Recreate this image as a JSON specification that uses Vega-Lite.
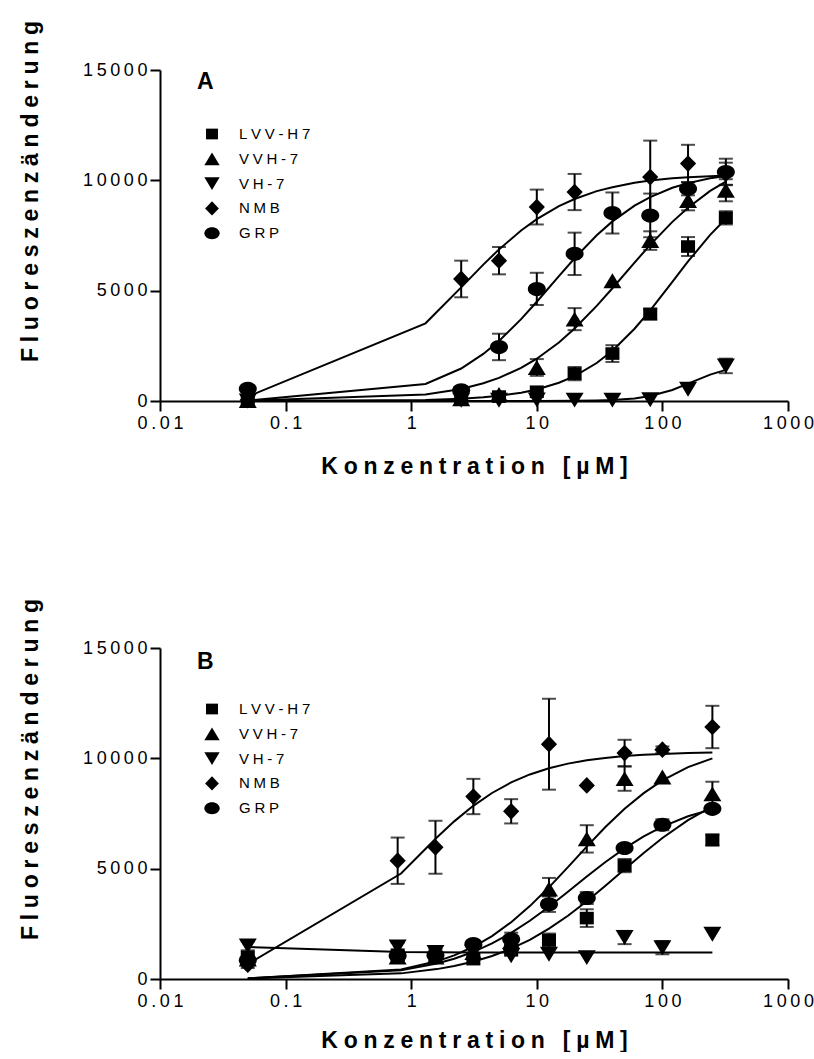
{
  "$schema": "https://vega.github.io/schema/vega-lite/v6.json",
  "padding": {"left": 19, "top": 20, "right": 5, "bottom": 0},
  "spacing": 120,
  "config": {
    "view": {"stroke": null},
    "font": "Liberation Sans",
    "axis": {
      "grid": false,
      "domainColor": "black", "domainWidth": 2,
      "tickColor": "black", "tickWidth": 2, "tickSize": 10,
      "labelColor": "black", "labelFont": "Liberation Sans", "labelFontSize": 18, "labelPadding": 3,
      "labelFlush": false, "labelOverlap": false,
      "titleColor": "black", "titleFont": "Liberation Sans", "titleFontSize": 23, "titleFontWeight": "bold"
    },
    "legend": {
      "orient": "none", "legendX": 44, "legendY": 56, "padding": 0,
      "labelColor": "black", "labelFont": "Liberation Sans", "labelFontSize": 15,
      "labelOffset": 19, "rowPadding": 8.8, "symbolSize": 235,
      "symbolFillColor": "black", "symbolStrokeColor": "black", "symbolStrokeWidth": 0
    },
    "text": {"font": "Liberation Sans", "fontSize": 23, "fontWeight": "bold", "color": "black", "align": "left", "baseline": "alphabetic"}
  },
  "datasets": {
    "points": [
      {"p": "A", "c": "LVV-H7", "x": 0.05, "y": 30, "e": 0},
      {"p": "A", "c": "LVV-H7", "x": 2.5, "y": 150, "e": 0},
      {"p": "A", "c": "LVV-H7", "x": 5, "y": 200, "e": 0},
      {"p": "A", "c": "LVV-H7", "x": 10, "y": 420, "e": 0},
      {"p": "A", "c": "LVV-H7", "x": 20, "y": 1240, "e": 300},
      {"p": "A", "c": "LVV-H7", "x": 40, "y": 2150, "e": 380},
      {"p": "A", "c": "LVV-H7", "x": 80, "y": 3940, "e": 250},
      {"p": "A", "c": "LVV-H7", "x": 160, "y": 7000, "e": 430},
      {"p": "A", "c": "LVV-H7", "x": 320, "y": 8300, "e": 300},
      {"p": "A", "c": "VVH-7", "x": 0.05, "y": 20, "e": 0},
      {"p": "A", "c": "VVH-7", "x": 2.5, "y": 100, "e": 0},
      {"p": "A", "c": "VVH-7", "x": 5, "y": 300, "e": 0},
      {"p": "A", "c": "VVH-7", "x": 10, "y": 1520, "e": 380},
      {"p": "A", "c": "VVH-7", "x": 20, "y": 3710, "e": 500},
      {"p": "A", "c": "VVH-7", "x": 40, "y": 5450, "e": 0},
      {"p": "A", "c": "VVH-7", "x": 80, "y": 7270, "e": 420},
      {"p": "A", "c": "VVH-7", "x": 160, "y": 9090, "e": 450},
      {"p": "A", "c": "VVH-7", "x": 320, "y": 9550, "e": 500},
      {"p": "A", "c": "VH-7", "x": 0.05, "y": 0, "e": 0},
      {"p": "A", "c": "VH-7", "x": 2.5, "y": 30, "e": 0},
      {"p": "A", "c": "VH-7", "x": 5, "y": 30, "e": 0},
      {"p": "A", "c": "VH-7", "x": 10, "y": 50, "e": 0},
      {"p": "A", "c": "VH-7", "x": 20, "y": 40, "e": 0},
      {"p": "A", "c": "VH-7", "x": 40, "y": 40, "e": 0},
      {"p": "A", "c": "VH-7", "x": 80, "y": 60, "e": 0},
      {"p": "A", "c": "VH-7", "x": 160, "y": 530, "e": 0},
      {"p": "A", "c": "VH-7", "x": 320, "y": 1590, "e": 330},
      {"p": "A", "c": "NMB", "x": 0.05, "y": 50, "e": 0},
      {"p": "A", "c": "NMB", "x": 2.5, "y": 5530, "e": 830},
      {"p": "A", "c": "NMB", "x": 5, "y": 6360, "e": 620},
      {"p": "A", "c": "NMB", "x": 10, "y": 8790, "e": 790},
      {"p": "A", "c": "NMB", "x": 20, "y": 9470, "e": 820},
      {"p": "A", "c": "NMB", "x": 80, "y": 10150, "e": 1650},
      {"p": "A", "c": "NMB", "x": 160, "y": 10760, "e": 850},
      {"p": "A", "c": "NMB", "x": 320, "y": 10300, "e": 500},
      {"p": "A", "c": "GRP", "x": 0.05, "y": 550, "e": 0},
      {"p": "A", "c": "GRP", "x": 2.5, "y": 485, "e": 0},
      {"p": "A", "c": "GRP", "x": 5, "y": 2450, "e": 600},
      {"p": "A", "c": "GRP", "x": 10, "y": 5080, "e": 730},
      {"p": "A", "c": "GRP", "x": 20, "y": 6670, "e": 960},
      {"p": "A", "c": "GRP", "x": 40, "y": 8520, "e": 930},
      {"p": "A", "c": "GRP", "x": 80, "y": 8410, "e": 990},
      {"p": "A", "c": "GRP", "x": 160, "y": 9620, "e": 300},
      {"p": "A", "c": "GRP", "x": 320, "y": 10380, "e": 600},
      {"p": "B", "c": "LVV-H7", "x": 0.05, "y": 1000, "e": 0},
      {"p": "B", "c": "LVV-H7", "x": 0.78, "y": 1100, "e": 0},
      {"p": "B", "c": "LVV-H7", "x": 1.56, "y": 1000, "e": 0},
      {"p": "B", "c": "LVV-H7", "x": 3.125, "y": 900, "e": 0},
      {"p": "B", "c": "LVV-H7", "x": 6.25, "y": 1300, "e": 0},
      {"p": "B", "c": "LVV-H7", "x": 12.5, "y": 1760, "e": 300},
      {"p": "B", "c": "LVV-H7", "x": 25, "y": 2760, "e": 400},
      {"p": "B", "c": "LVV-H7", "x": 50, "y": 5140, "e": 300},
      {"p": "B", "c": "LVV-H7", "x": 250, "y": 6300, "e": 250},
      {"p": "B", "c": "VVH-7", "x": 0.05, "y": 900, "e": 0},
      {"p": "B", "c": "VVH-7", "x": 0.78, "y": 1000, "e": 0},
      {"p": "B", "c": "VVH-7", "x": 1.56, "y": 1000, "e": 0},
      {"p": "B", "c": "VVH-7", "x": 3.125, "y": 1200, "e": 0},
      {"p": "B", "c": "VVH-7", "x": 6.25, "y": 1700, "e": 0},
      {"p": "B", "c": "VVH-7", "x": 12.5, "y": 4080, "e": 500},
      {"p": "B", "c": "VVH-7", "x": 25, "y": 6350, "e": 620},
      {"p": "B", "c": "VVH-7", "x": 50, "y": 9080, "e": 550},
      {"p": "B", "c": "VVH-7", "x": 100, "y": 9150, "e": 0},
      {"p": "B", "c": "VVH-7", "x": 250, "y": 8390, "e": 550},
      {"p": "B", "c": "VH-7", "x": 0.05, "y": 1500, "e": 200},
      {"p": "B", "c": "VH-7", "x": 0.78, "y": 1450, "e": 200},
      {"p": "B", "c": "VH-7", "x": 1.56, "y": 1200, "e": 150},
      {"p": "B", "c": "VH-7", "x": 3.125, "y": 1200, "e": 0},
      {"p": "B", "c": "VH-7", "x": 6.25, "y": 1050, "e": 0},
      {"p": "B", "c": "VH-7", "x": 12.5, "y": 1120, "e": 0},
      {"p": "B", "c": "VH-7", "x": 25, "y": 970, "e": 0},
      {"p": "B", "c": "VH-7", "x": 50, "y": 1880, "e": 300},
      {"p": "B", "c": "VH-7", "x": 100, "y": 1420, "e": 300},
      {"p": "B", "c": "VH-7", "x": 250, "y": 2030, "e": 0},
      {"p": "B", "c": "NMB", "x": 0.05, "y": 650, "e": 150},
      {"p": "B", "c": "NMB", "x": 0.78, "y": 5360, "e": 1050},
      {"p": "B", "c": "NMB", "x": 1.56, "y": 5970, "e": 1200},
      {"p": "B", "c": "NMB", "x": 3.125, "y": 8270, "e": 800},
      {"p": "B", "c": "NMB", "x": 6.25, "y": 7600, "e": 550},
      {"p": "B", "c": "NMB", "x": 12.5, "y": 10640, "e": 2060},
      {"p": "B", "c": "NMB", "x": 25, "y": 8770, "e": 0},
      {"p": "B", "c": "NMB", "x": 50, "y": 10240, "e": 600},
      {"p": "B", "c": "NMB", "x": 100, "y": 10390, "e": 150},
      {"p": "B", "c": "NMB", "x": 250, "y": 11420, "e": 960},
      {"p": "B", "c": "GRP", "x": 0.05, "y": 850, "e": 200},
      {"p": "B", "c": "GRP", "x": 0.78, "y": 1050, "e": 200},
      {"p": "B", "c": "GRP", "x": 1.56, "y": 1080, "e": 0},
      {"p": "B", "c": "GRP", "x": 3.125, "y": 1580, "e": 0},
      {"p": "B", "c": "GRP", "x": 6.25, "y": 1800, "e": 300},
      {"p": "B", "c": "GRP", "x": 12.5, "y": 3390, "e": 350},
      {"p": "B", "c": "GRP", "x": 25, "y": 3670, "e": 270},
      {"p": "B", "c": "GRP", "x": 50, "y": 5940, "e": 0},
      {"p": "B", "c": "GRP", "x": 100, "y": 6990, "e": 250},
      {"p": "B", "c": "GRP", "x": 250, "y": 7710, "e": 0}
    ],
    "curves": [
      {"p": "A", "c": "NMB", "x": 0.05, "y": 200}, {"p": "A", "c": "NMB", "x": 1.3, "y": 3520}, {"p": "A", "c": "NMB", "x": 2.5, "y": 5150}, {"p": "A", "c": "NMB", "x": 3.75, "y": 6180}, {"p": "A", "c": "NMB", "x": 5, "y": 6870}, {"p": "A", "c": "NMB", "x": 7.5, "y": 7725}, {"p": "A", "c": "NMB", "x": 10, "y": 8240}, {"p": "A", "c": "NMB", "x": 15, "y": 8830}, {"p": "A", "c": "NMB", "x": 20, "y": 9155}, {"p": "A", "c": "NMB", "x": 30, "y": 9510}, {"p": "A", "c": "NMB", "x": 40, "y": 9690}, {"p": "A", "c": "NMB", "x": 60, "y": 9890}, {"p": "A", "c": "NMB", "x": 80, "y": 9990}, {"p": "A", "c": "NMB", "x": 120, "y": 10090}, {"p": "A", "c": "NMB", "x": 160, "y": 10140}, {"p": "A", "c": "NMB", "x": 240, "y": 10190}, {"p": "A", "c": "NMB", "x": 320, "y": 10220},
      {"p": "A", "c": "GRP", "x": 0.05, "y": 23}, {"p": "A", "c": "GRP", "x": 1.3, "y": 773}, {"p": "A", "c": "GRP", "x": 2.5, "y": 1473}, {"p": "A", "c": "GRP", "x": 3.75, "y": 2134}, {"p": "A", "c": "GRP", "x": 5, "y": 2720}, {"p": "A", "c": "GRP", "x": 7.5, "y": 3710}, {"p": "A", "c": "GRP", "x": 10, "y": 4497}, {"p": "A", "c": "GRP", "x": 15, "y": 5660}, {"p": "A", "c": "GRP", "x": 20, "y": 6469}, {"p": "A", "c": "GRP", "x": 30, "y": 7511}, {"p": "A", "c": "GRP", "x": 40, "y": 8140}, {"p": "A", "c": "GRP", "x": 60, "y": 8853}, {"p": "A", "c": "GRP", "x": 80, "y": 9243}, {"p": "A", "c": "GRP", "x": 120, "y": 9662}, {"p": "A", "c": "GRP", "x": 160, "y": 9874}, {"p": "A", "c": "GRP", "x": 240, "y": 10090}, {"p": "A", "c": "GRP", "x": 320, "y": 10199},
      {"p": "A", "c": "VVH-7", "x": 0.05, "y": 11}, {"p": "A", "c": "VVH-7", "x": 1.3, "y": 291}, {"p": "A", "c": "VVH-7", "x": 2.5, "y": 548}, {"p": "A", "c": "VVH-7", "x": 3.75, "y": 802}, {"p": "A", "c": "VVH-7", "x": 5, "y": 1045}, {"p": "A", "c": "VVH-7", "x": 7.5, "y": 1500}, {"p": "A", "c": "VVH-7", "x": 10, "y": 1917}, {"p": "A", "c": "VVH-7", "x": 15, "y": 2654}, {"p": "A", "c": "VVH-7", "x": 20, "y": 3286}, {"p": "A", "c": "VVH-7", "x": 30, "y": 4312}, {"p": "A", "c": "VVH-7", "x": 40, "y": 5111}, {"p": "A", "c": "VVH-7", "x": 60, "y": 6273}, {"p": "A", "c": "VVH-7", "x": 80, "y": 7077}, {"p": "A", "c": "VVH-7", "x": 120, "y": 8118}, {"p": "A", "c": "VVH-7", "x": 160, "y": 8762}, {"p": "A", "c": "VVH-7", "x": 240, "y": 9520}, {"p": "A", "c": "VVH-7", "x": 320, "y": 9946},
      {"p": "A", "c": "LVV-H7", "x": 0.05, "y": 1}, {"p": "A", "c": "LVV-H7", "x": 1.3, "y": 47}, {"p": "A", "c": "LVV-H7", "x": 2.5, "y": 103}, {"p": "A", "c": "LVV-H7", "x": 3.75, "y": 166}, {"p": "A", "c": "LVV-H7", "x": 5, "y": 233}, {"p": "A", "c": "LVV-H7", "x": 7.5, "y": 374}, {"p": "A", "c": "LVV-H7", "x": 10, "y": 522}, {"p": "A", "c": "LVV-H7", "x": 15, "y": 825}, {"p": "A", "c": "LVV-H7", "x": 20, "y": 1126}, {"p": "A", "c": "LVV-H7", "x": 30, "y": 1720}, {"p": "A", "c": "LVV-H7", "x": 40, "y": 2278}, {"p": "A", "c": "LVV-H7", "x": 60, "y": 3276}, {"p": "A", "c": "LVV-H7", "x": 80, "y": 4111}, {"p": "A", "c": "LVV-H7", "x": 120, "y": 5400}, {"p": "A", "c": "LVV-H7", "x": 160, "y": 6323}, {"p": "A", "c": "LVV-H7", "x": 240, "y": 7526}, {"p": "A", "c": "LVV-H7", "x": 320, "y": 8257},
      {"p": "A", "c": "VH-7", "x": 0.05, "y": 0}, {"p": "A", "c": "VH-7", "x": 1.3, "y": 0}, {"p": "A", "c": "VH-7", "x": 2.5, "y": 0}, {"p": "A", "c": "VH-7", "x": 5, "y": 1}, {"p": "A", "c": "VH-7", "x": 10, "y": 3}, {"p": "A", "c": "VH-7", "x": 20, "y": 8}, {"p": "A", "c": "VH-7", "x": 30, "y": 22}, {"p": "A", "c": "VH-7", "x": 40, "y": 44}, {"p": "A", "c": "VH-7", "x": 60, "y": 117}, {"p": "A", "c": "VH-7", "x": 80, "y": 224}, {"p": "A", "c": "VH-7", "x": 120, "y": 501}, {"p": "A", "c": "VH-7", "x": 160, "y": 788}, {"p": "A", "c": "VH-7", "x": 240, "y": 1195}, {"p": "A", "c": "VH-7", "x": 320, "y": 1411},
      {"p": "B", "c": "NMB", "x": 0.05, "y": 681}, {"p": "B", "c": "NMB", "x": 0.83, "y": 4780}, {"p": "B", "c": "NMB", "x": 1.6, "y": 6415}, {"p": "B", "c": "NMB", "x": 2.2, "y": 7144}, {"p": "B", "c": "NMB", "x": 3.1, "y": 7837}, {"p": "B", "c": "NMB", "x": 4.4, "y": 8430}, {"p": "B", "c": "NMB", "x": 6.25, "y": 8907}, {"p": "B", "c": "NMB", "x": 8.8, "y": 9270}, {"p": "B", "c": "NMB", "x": 12.5, "y": 9552}, {"p": "B", "c": "NMB", "x": 17.7, "y": 9760}, {"p": "B", "c": "NMB", "x": 25, "y": 9912}, {"p": "B", "c": "NMB", "x": 35, "y": 10018}, {"p": "B", "c": "NMB", "x": 50, "y": 10102}, {"p": "B", "c": "NMB", "x": 71, "y": 10160}, {"p": "B", "c": "NMB", "x": 100, "y": 10200}, {"p": "B", "c": "NMB", "x": 160, "y": 10237}, {"p": "B", "c": "NMB", "x": 250, "y": 10260},
      {"p": "B", "c": "VVH-7", "x": 0.05, "y": 27}, {"p": "B", "c": "VVH-7", "x": 0.83, "y": 432}, {"p": "B", "c": "VVH-7", "x": 1.6, "y": 800}, {"p": "B", "c": "VVH-7", "x": 2.2, "y": 1070}, {"p": "B", "c": "VVH-7", "x": 3.1, "y": 1450}, {"p": "B", "c": "VVH-7", "x": 4.4, "y": 1946}, {"p": "B", "c": "VVH-7", "x": 6.25, "y": 2571}, {"p": "B", "c": "VVH-7", "x": 8.8, "y": 3303}, {"p": "B", "c": "VVH-7", "x": 12.5, "y": 4154}, {"p": "B", "c": "VVH-7", "x": 17.7, "y": 5070}, {"p": "B", "c": "VVH-7", "x": 25, "y": 6000}, {"p": "B", "c": "VVH-7", "x": 35, "y": 6874}, {"p": "B", "c": "VVH-7", "x": 50, "y": 7714}, {"p": "B", "c": "VVH-7", "x": 71, "y": 8424}, {"p": "B", "c": "VVH-7", "x": 100, "y": 9000}, {"p": "B", "c": "VVH-7", "x": 160, "y": 9600}, {"p": "B", "c": "VVH-7", "x": 250, "y": 10000},
      {"p": "B", "c": "GRP", "x": 0.05, "y": 28}, {"p": "B", "c": "GRP", "x": 0.83, "y": 391}, {"p": "B", "c": "GRP", "x": 1.6, "y": 700}, {"p": "B", "c": "GRP", "x": 2.2, "y": 918}, {"p": "B", "c": "GRP", "x": 3.1, "y": 1221}, {"p": "B", "c": "GRP", "x": 4.4, "y": 1612}, {"p": "B", "c": "GRP", "x": 6.25, "y": 2090}, {"p": "B", "c": "GRP", "x": 8.8, "y": 2641}, {"p": "B", "c": "GRP", "x": 12.5, "y": 3277}, {"p": "B", "c": "GRP", "x": 17.7, "y": 3957}, {"p": "B", "c": "GRP", "x": 25, "y": 4643}, {"p": "B", "c": "GRP", "x": 35, "y": 5293}, {"p": "B", "c": "GRP", "x": 50, "y": 5920}, {"p": "B", "c": "GRP", "x": 71, "y": 6462}, {"p": "B", "c": "GRP", "x": 100, "y": 6902}, {"p": "B", "c": "GRP", "x": 160, "y": 7375}, {"p": "B", "c": "GRP", "x": 250, "y": 7700},
      {"p": "B", "c": "LVV-H7", "x": 0.05, "y": 21}, {"p": "B", "c": "LVV-H7", "x": 0.83, "y": 255}, {"p": "B", "c": "LVV-H7", "x": 1.6, "y": 448}, {"p": "B", "c": "LVV-H7", "x": 2.2, "y": 590}, {"p": "B", "c": "LVV-H7", "x": 3.1, "y": 785}, {"p": "B", "c": "LVV-H7", "x": 4.4, "y": 1044}, {"p": "B", "c": "LVV-H7", "x": 6.25, "y": 1377}, {"p": "B", "c": "LVV-H7", "x": 8.8, "y": 1776}, {"p": "B", "c": "LVV-H7", "x": 12.5, "y": 2280}, {"p": "B", "c": "LVV-H7", "x": 17.7, "y": 2865}, {"p": "B", "c": "LVV-H7", "x": 25, "y": 3522}, {"p": "B", "c": "LVV-H7", "x": 35, "y": 4215}, {"p": "B", "c": "LVV-H7", "x": 50, "y": 4977}, {"p": "B", "c": "LVV-H7", "x": 71, "y": 5713}, {"p": "B", "c": "LVV-H7", "x": 100, "y": 6389}, {"p": "B", "c": "LVV-H7", "x": 160, "y": 7202}, {"p": "B", "c": "LVV-H7", "x": 250, "y": 7828},
      {"p": "B", "c": "VH-7", "x": 0.05, "y": 1450}, {"p": "B", "c": "VH-7", "x": 0.83, "y": 1225}, {"p": "B", "c": "VH-7", "x": 3.1, "y": 1205}, {"p": "B", "c": "VH-7", "x": 25, "y": 1200}, {"p": "B", "c": "VH-7", "x": 250, "y": 1200}
    ]
  },
  "resolve": {"scale": {"shape": "independent"}, "legend": {"shape": "independent"}},
  "vconcat": [
    {
      "width": 628, "height": 331,
      "layer": [
        {
          "data": {"name": "curves"},
          "transform": [{"filter": "datum.p === 'A'"}],
          "mark": {"type": "line", "color": "black", "strokeWidth": 2},
          "encoding": {
            "x": {"field": "x", "type": "quantitative", "scale": {"type": "log", "domain": [0.01, 1000], "nice": false},
              "title": "K\u2005o\u2005n\u2005z\u2005e\u2005n\u2005t\u2005r\u2005a\u2005t\u2005i\u2005o\u2005n\u2005 \u2005[\u2005µ\u2005M\u2005]",
              "axis": {"values": [0.01, 0.1, 1, 10, 100, 1000], "format": "~g", "labelExpr": "join(split(datum.label, ''), '\u2009')", "titlePadding": 23}},
            "y": {"field": "y", "type": "quantitative", "scale": {"domain": [0, 15000], "nice": false, "zero": true},
              "title": "F\u2005l\u2005u\u2005o\u2005r\u2005e\u2005s\u2005z\u2005e\u2005n\u2005z\u2005ä\u2005n\u2005d\u2005e\u2005r\u2005u\u2005n\u2005g",
              "axis": {"values": [0, 5000, 10000, 15000], "format": "d", "labelExpr": "join(split(datum.label, ''), '\u2009')", "titleX": -118, "titleY": 121}},
            "detail": {"field": "c"}
          }
        },
        {
          "data": {"name": "points"},
          "transform": [{"filter": "datum.p === 'A' && datum.e > 0"}],
          "mark": {"type": "errorbar", "color": "black", "rule": {"strokeWidth": 2}, "ticks": {"size": 14, "thickness": 2}},
          "encoding": {
            "x": {"field": "x", "type": "quantitative", "title": "K\u2005o\u2005n\u2005z\u2005e\u2005n\u2005t\u2005r\u2005a\u2005t\u2005i\u2005o\u2005n\u2005 \u2005[\u2005µ\u2005M\u2005]"},
            "y": {"field": "y", "type": "quantitative", "title": "F\u2005l\u2005u\u2005o\u2005r\u2005e\u2005s\u2005z\u2005e\u2005n\u2005z\u2005ä\u2005n\u2005d\u2005e\u2005r\u2005u\u2005n\u2005g"},
            "yError": {"field": "e"},
            "detail": {"field": "c"}
          }
        },
        {
          "data": {"name": "points"},
          "transform": [{"filter": "datum.p === 'A'"}],
          "mark": {"type": "point", "filled": true, "opacity": 1, "color": "black", "size": 324},
          "encoding": {
            "x": {"field": "x", "type": "quantitative", "title": "K\u2005o\u2005n\u2005z\u2005e\u2005n\u2005t\u2005r\u2005a\u2005t\u2005i\u2005o\u2005n\u2005 \u2005[\u2005µ\u2005M\u2005]"},
            "y": {"field": "y", "type": "quantitative", "title": "F\u2005l\u2005u\u2005o\u2005r\u2005e\u2005s\u2005z\u2005e\u2005n\u2005z\u2005ä\u2005n\u2005d\u2005e\u2005r\u2005u\u2005n\u2005g"},
            "shape": {"field": "c", "type": "nominal",
              "scale": {"domain": ["LVV-H7", "VVH-7", "VH-7", "NMB", "GRP"],
                "range": ["M-0.78,-0.7H0.78V0.7H-0.78Z", "M0,-0.83L1,0.83H-1Z", "M0,0.83L1,-0.83H-1Z", "M0,-0.93L0.9,0L0,0.93L-0.9,0Z", "M-1,0A1,0.78,0,1,0,1,0A1,0.78,0,1,0,-1,0Z"]},
              "legend": {"title": null, "labelExpr": "join(split(datum.label, ''), '\u2005')"}}
          }
        },
        {
          "data": {"values": [{}]},
          "mark": {"type": "text"},
          "encoding": {
            "x": {"datum": 0.0197},
            "y": {"datum": 14150},
            "text": {"value": "A"}
          }
        }
      ]
    },
    {
      "width": 628, "height": 331,
      "layer": [
        {
          "data": {"name": "curves"},
          "transform": [{"filter": "datum.p === 'B'"}],
          "mark": {"type": "line", "color": "black", "strokeWidth": 2},
          "encoding": {
            "x": {"field": "x", "type": "quantitative", "scale": {"type": "log", "domain": [0.01, 1000], "nice": false},
              "title": "K\u2005o\u2005n\u2005z\u2005e\u2005n\u2005t\u2005r\u2005a\u2005t\u2005i\u2005o\u2005n\u2005 \u2005[\u2005µ\u2005M\u2005]",
              "axis": {"values": [0.01, 0.1, 1, 10, 100, 1000], "format": "~g", "labelExpr": "join(split(datum.label, ''), '\u2009')", "titlePadding": 19}},
            "y": {"field": "y", "type": "quantitative", "scale": {"domain": [0, 15000], "nice": false, "zero": true},
              "title": "F\u2005l\u2005u\u2005o\u2005r\u2005e\u2005s\u2005z\u2005e\u2005n\u2005z\u2005ä\u2005n\u2005d\u2005e\u2005r\u2005u\u2005n\u2005g",
              "axis": {"values": [0, 5000, 10000, 15000], "format": "d", "labelExpr": "join(split(datum.label, ''), '\u2009')", "titleX": -118, "titleY": 121}},
            "detail": {"field": "c"}
          }
        },
        {
          "data": {"name": "points"},
          "transform": [{"filter": "datum.p === 'B' && datum.e > 0"}],
          "mark": {"type": "errorbar", "color": "black", "rule": {"strokeWidth": 2}, "ticks": {"size": 14, "thickness": 2}},
          "encoding": {
            "x": {"field": "x", "type": "quantitative", "title": "K\u2005o\u2005n\u2005z\u2005e\u2005n\u2005t\u2005r\u2005a\u2005t\u2005i\u2005o\u2005n\u2005 \u2005[\u2005µ\u2005M\u2005]"},
            "y": {"field": "y", "type": "quantitative", "title": "F\u2005l\u2005u\u2005o\u2005r\u2005e\u2005s\u2005z\u2005e\u2005n\u2005z\u2005ä\u2005n\u2005d\u2005e\u2005r\u2005u\u2005n\u2005g"},
            "yError": {"field": "e"},
            "detail": {"field": "c"}
          }
        },
        {
          "data": {"name": "points"},
          "transform": [{"filter": "datum.p === 'B'"}],
          "mark": {"type": "point", "filled": true, "opacity": 1, "color": "black", "size": 324},
          "encoding": {
            "x": {"field": "x", "type": "quantitative", "title": "K\u2005o\u2005n\u2005z\u2005e\u2005n\u2005t\u2005r\u2005a\u2005t\u2005i\u2005o\u2005n\u2005 \u2005[\u2005µ\u2005M\u2005]"},
            "y": {"field": "y", "type": "quantitative", "title": "F\u2005l\u2005u\u2005o\u2005r\u2005e\u2005s\u2005z\u2005e\u2005n\u2005z\u2005ä\u2005n\u2005d\u2005e\u2005r\u2005u\u2005n\u2005g"},
            "shape": {"field": "c", "type": "nominal",
              "scale": {"domain": ["LVV-H7", "VVH-7", "VH-7", "NMB", "GRP"],
                "range": ["M-0.78,-0.7H0.78V0.7H-0.78Z", "M0,-0.83L1,0.83H-1Z", "M0,0.83L1,-0.83H-1Z", "M0,-0.93L0.9,0L0,0.93L-0.9,0Z", "M-1,0A1,0.78,0,1,0,1,0A1,0.78,0,1,0,-1,0Z"]},
              "legend": {"title": null, "legendY": 53, "labelExpr": "join(split(datum.label, ''), '\u2005')"}}
          }
        },
        {
          "data": {"values": [{}]},
          "mark": {"type": "text"},
          "encoding": {
            "x": {"datum": 0.0197},
            "y": {"datum": 14050},
            "text": {"value": "B"}
          }
        }
      ]
    }
  ]
}
